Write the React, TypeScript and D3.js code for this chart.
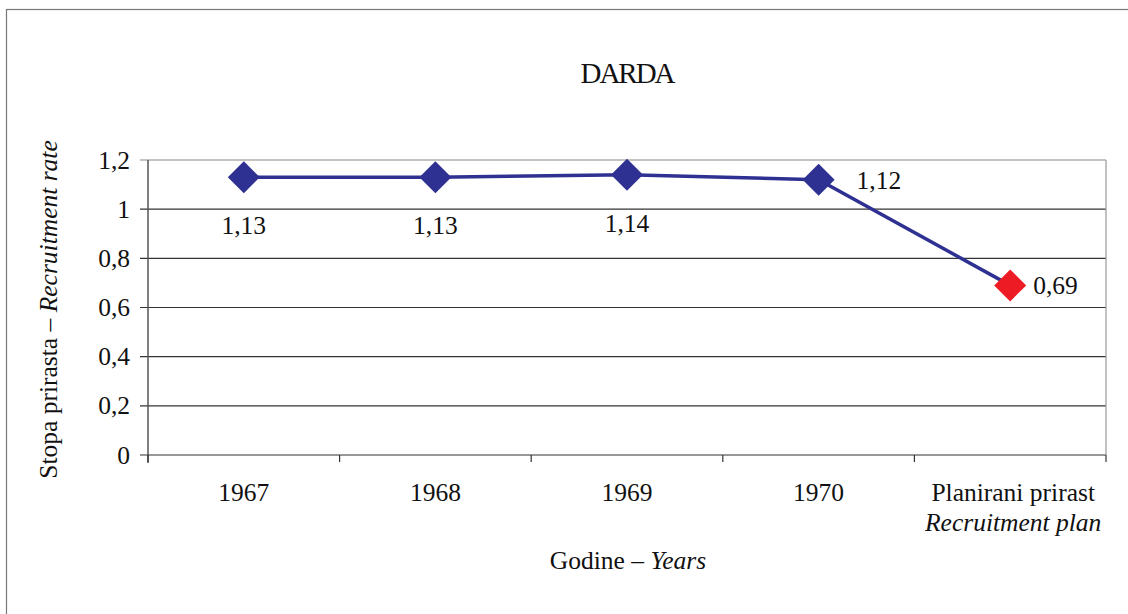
import * as d3 from "d3"

const categories = ["1967", "1968", "1969", "1970", "plan"]
const values = [1.13, 1.13, 1.14, 1.12, 0.69]
const valueLabels = ["1,13", "1,13", "1,14", "1,12", "0,69"]
const yTicks = [0, 0.2, 0.4, 0.6, 0.8, 1, 1.2]
const yTickLabels = ["0", "0,2", "0,4", "0,6", "0,8", "1", "1,2"]

const width = 1128
const height = 614
const marginLeft = 148
const marginRight = 22
const marginTop = 160
const marginBottom = 159

const font = "'Liberation Serif', 'Times New Roman', serif"
const navy = "#2e3192"
const red = "#ed1c24"
const fs = 25.5

export default function App() {
  const x = d3
    .scaleBand<string>()
    .domain(categories)
    .range([marginLeft, width - marginRight])
  const y = d3
    .scaleLinear()
    .domain([0, 1.2])
    .range([height - marginBottom, marginTop])

  const line = d3
    .line<number>()
    .x((d, i) => x(categories[i])! + x.bandwidth() / 2)
    .y((d) => y(d))

  const diamond = (cx: number, cy: number, r: number) =>
    `M${cx},${cy - r}L${cx + r},${cy}L${cx},${cy + r}L${cx - r},${cy}Z`

  const bottom = y(0)
  const right = width - marginRight
  const boundaries = [...categories.map((c) => x(c)!), right]

  return (
    <svg
      width={width}
      height={height}
      style={{ position: "absolute", left: 0, top: 0, background: "#fff" }}
      fontFamily={font}
    >
      {/* outer frame */}
      <rect x={6.5} y={9.5} width={1200} height={700} fill="none" stroke="#777" strokeWidth={1.2} />

      <text x={627} y={83} textAnchor="middle" fontSize={29} letterSpacing={-2} fill="#111">
        DARDA
      </text>

      {/* gridlines */}
      {yTicks.map((t, i) => (
        <g key={t}>
          <line
            x1={marginLeft - 8}
            x2={right}
            y1={y(t)}
            y2={y(t)}
            stroke={i === yTicks.length - 1 ? "#888" : "#333"}
            strokeWidth={1.2}
          />
          <text x={130} y={y(t) + 8.5} textAnchor="end" fontSize={fs} fill="#111">
            {yTickLabels[i]}
          </text>
        </g>
      ))}

      {/* axes */}
      <line x1={marginLeft} x2={marginLeft} y1={marginTop} y2={bottom + 8} stroke="#555" strokeWidth={1.5} />
      <line x1={right} x2={right} y1={marginTop} y2={bottom} stroke="#999" strokeWidth={1.2} />
      {boundaries.map((b, i) => (
        <line key={i} x1={b} x2={b} y1={bottom} y2={bottom + 7} stroke="#333" strokeWidth={1.2} />
      ))}

      {/* x tick labels */}
      {categories.slice(0, 4).map((c) => (
        <text
          key={c}
          x={x(c)! + x.bandwidth() / 2}
          y={501}
          textAnchor="middle"
          fontSize={fs}
          fill="#111"
        >
          {c}
        </text>
      ))}
      <text x={x("plan")! + x.bandwidth() / 2 + 3} y={501} textAnchor="middle" fontSize={fs} fill="#111">
        Planirani prirast
      </text>
      <text
        x={x("plan")! + x.bandwidth() / 2 + 3}
        y={531}
        textAnchor="middle"
        fontSize={fs}
        fontStyle="italic"
        fill="#111"
      >
        Recruitment plan
      </text>

      {/* axis titles */}
      <text x={628} y={569} textAnchor="middle" fontSize={fs} fill="#111">
        Godine – <tspan fontStyle="italic">Years</tspan>
      </text>
      <text
        transform={`translate(57,${(marginTop + bottom) / 2 + 2}) rotate(-90)`}
        textAnchor="middle"
        fontSize={fs}
        fill="#111"
      >
        Stopa prirasta – <tspan fontStyle="italic">Recruitment rate</tspan>
      </text>

      {/* series */}
      <path d={line(values) ?? undefined} fill="none" stroke={navy} strokeWidth={3.5} />
      {values.map((v, i) => {
        const cx = x(categories[i])! + x.bandwidth() / 2
        const cy = y(v)
        return (
          <path key={i} d={diamond(cx, cy, 16)} fill={i === values.length - 1 ? red : navy} />
        )
      })}

      {/* data labels */}
      {values.map((v, i) => {
        const cx = x(categories[i])! + x.bandwidth() / 2
        const cy = y(v)
        const below = i < 3
        const dx = i === 3 ? 38 : 23
        return (
          <text
            key={i}
            x={below ? cx : cx + dx}
            y={below ? cy + 57 : cy + 9}
            textAnchor={below ? "middle" : "start"}
            fontSize={fs}
            fill="#111"
          >
            {valueLabels[i]}
          </text>
        )
      })}
    </svg>
  )
}
